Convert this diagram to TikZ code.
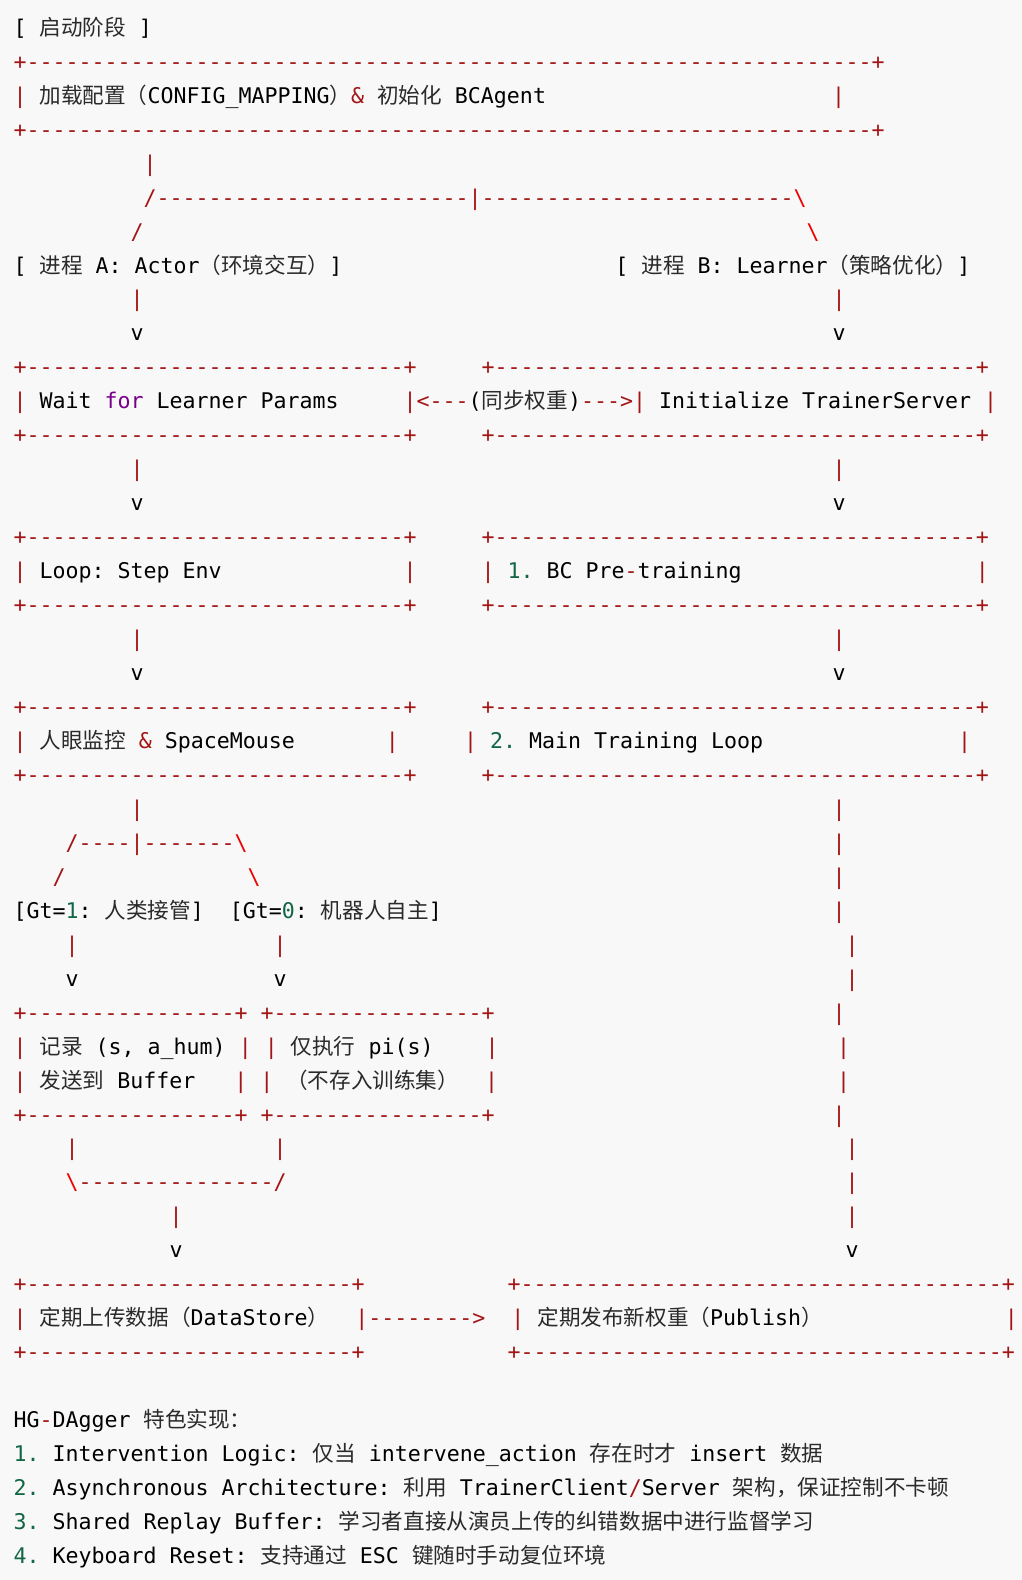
\documentclass[tikz,border=0pt]{standalone}
\usepackage{fontspec}
\setmonofont{DejaVu Sans Mono}
\newfontfamily\cjkfont{Noto Sans CJK SC}
\definecolor{bgcol}{HTML}{F8F8F8}
\definecolor{artred}{HTML}{A31515}
\definecolor{errred}{HTML}{EE0000}
\definecolor{numgreen}{HTML}{116644}
\definecolor{kwpurple}{HTML}{770088}
\definecolor{cjkcol}{HTML}{2A2A2A}
\ExplSyntaxOn
\cs_new:Npn \myrep #1#2 { \prg_replicate:nn {#1} {#2} }
\ExplSyntaxOff
\newcommand\dashes[1]{\myrep{#1}{-}}
\newcommand\sps[1]{\myrep{#1}{\ }}
\newcommand\us{\char95\relax}
\newcommand\rd[1]{\textcolor{artred}{#1}}
\newcommand\er[1]{\textcolor{errred}{#1}}
\newcommand\gn[1]{\textcolor{numgreen}{#1}}
\newcommand\kw[1]{\textcolor{kwpurple}{#1}}
\newcommand\zh[1]{{\cjkfont\color{cjkcol}#1}}
\newcommand\boxrow{\rd{+\dashes{29}+\sps{5}+\dashes{37}+}}
\newcommand\smallrow{\rd{+\dashes{16}+}\ \rd{+\dashes{16}+}}
\newcommand\bottomrow{\rd{+\dashes{25}+\sps{11}+\dashes{37}+}}
\newcount\tn
\tikzset{txt/.style={anchor=base west, inner sep=0pt, outer sep=0pt, text=black,
  font=\ttfamily\fontsize{21.6}{30}\selectfont\frenchspacing}}
\newcommand\T[3]{\global\advance\tn by 1
  \node[txt] (t\the\tn) at ({13.5+13*(#2)}, {35.3+33.96*(#1)}) {#3};}
\begin{document}
\begin{tikzpicture}[x=1pt,y=-1pt]
\fill[bgcol] (0,0) rectangle (1022,1580);
\useasboundingbox (0,0) rectangle (1022,1580);
\T{0}{0}{[\ \zh{启动阶段}\ ]}
\T{1}{0}{\rd{+\dashes{65}+}}
\T{2}{0}{\rd{|}\ \zh{加载配置（}CONFIG\us MAPPING\zh{）}\rd{\&}\ \zh{初始化}\ BCAgent\sps{22}\rd{|}}
\T{3}{0}{\rd{+\dashes{65}+}}
\T{4}{10}{\rd{|}}
\T{5}{10}{\rd{/\dashes{24}|\dashes{24}}\er{\textbackslash}}
\T{6}{9}{\rd{/}}
\T{6}{61}{\er{\textbackslash}}
\T{7}{0}{[\ \zh{进程}\ A:\ Actor\zh{（环境交互）}]\sps{21}[\ \zh{进程}\ B:\ Learner\zh{（策略优化）}]}
\T{8}{9}{\rd{|}} \T{8}{63}{\rd{|}}
\T{9}{9}{v} \T{9}{63}{v}
\T{10}{0}{\boxrow}
\T{11}{0}{\rd{|}\ Wait\ \kw{for}\ Learner\ Params\sps{5}\rd{|<---}(\zh{同步权重})\rd{--->|}\ Initialize\ TrainerServer\ \rd{|}}
\T{12}{0}{\boxrow}
\T{13}{9}{\rd{|}} \T{13}{63}{\rd{|}}
\T{14}{9}{v} \T{14}{63}{v}
\T{15}{0}{\boxrow}
\T{16}{0}{\rd{|}\ Loop:\ Step\ Env\sps{14}\rd{|}\sps{5}\rd{|}\ \gn{1.}\ BC\ Pre\rd{-}training\sps{18}\rd{|}}
\T{17}{0}{\boxrow}
\T{18}{9}{\rd{|}} \T{18}{63}{\rd{|}}
\T{19}{9}{v} \T{19}{63}{v}
\T{20}{0}{\boxrow}
\T{21}{0}{\rd{|}\ \zh{人眼监控}\ \rd{\&}\ SpaceMouse\sps{7}\rd{|}\sps{5}\rd{|}\ \gn{2.}\ Main\ Training\ Loop\sps{15}\rd{|}}
\T{22}{0}{\boxrow}
\T{23}{9}{\rd{|}} \T{23}{63}{\rd{|}}
\T{24}{4}{\rd{/\dashes{4}|\dashes{7}}\er{\textbackslash}} \T{24}{63}{\rd{|}}
\T{25}{3}{\rd{/}} \T{25}{18}{\er{\textbackslash}} \T{25}{63}{\rd{|}}
\T{26}{0}{[Gt=\gn{1}:\ \zh{人类接管}]\sps{2}[Gt=\gn{0}:\ \zh{机器人自主}]} \T{26}{63}{\rd{|}}
\T{27}{4}{\rd{|}} \T{27}{20}{\rd{|}} \T{27}{64}{\rd{|}}
\T{28}{4}{v} \T{28}{20}{v} \T{28}{64}{\rd{|}}
\T{29}{0}{\smallrow} \T{29}{63}{\rd{|}}
\T{30}{0}{\rd{|}\ \zh{记录}\ (s,\ a\us hum)\ \rd{|}\ \rd{|}\ \zh{仅执行}\ pi(s)\sps{4}\rd{|}} \T{30}{63.36}{\rd{|}}
\T{31}{0}{\rd{|}\ \zh{发送到}\ Buffer\sps{3}\rd{|}\ \rd{|}\ \zh{（不存入训练集）}\sps{2}\rd{|}} \T{31}{63.36}{\rd{|}}
\T{32}{0}{\smallrow} \T{32}{63}{\rd{|}}
\T{33}{4}{\rd{|}} \T{33}{20}{\rd{|}} \T{33}{64}{\rd{|}}
\T{34}{4}{\er{\textbackslash}\rd{\dashes{15}/}} \T{34}{64}{\rd{|}}
\T{35}{12}{\rd{|}} \T{35}{64}{\rd{|}}
\T{36}{12}{v} \T{36}{64}{v}
\T{37}{0}{\bottomrow}
\T{38}{0}{\rd{|}\ \zh{定期上传数据（}DataStore\zh{）}\sps{2}\rd{|\dashes{8}>}\sps{2}\rd{|}\ \zh{定期发布新权重（}Publish\zh{）}\sps{14}\rd{|}}
\T{39}{0}{\bottomrow}
\T{41}{0}{HG\rd{-}DAgger\ \zh{特色实现：}}
\T{42}{0}{\gn{1.}\ Intervention\ Logic:\ \zh{仅当}\ intervene\us action\ \zh{存在时才}\ insert\ \zh{数据}}
\T{43}{0}{\gn{2.}\ Asynchronous\ Architecture:\ \zh{利用}\ TrainerClient\rd{/}Server\ \zh{架构，保证控制不卡顿}}
\T{44}{0}{\gn{3.}\ Shared\ Replay\ Buffer:\ \zh{学习者直接从演员上传的纠错数据中进行监督学习}}
\T{45}{0}{\gn{4.}\ Keyboard\ Reset:\ \zh{支持通过}\ ESC\ \zh{键随时手动复位环境}}
\end{tikzpicture}
\end{document}
